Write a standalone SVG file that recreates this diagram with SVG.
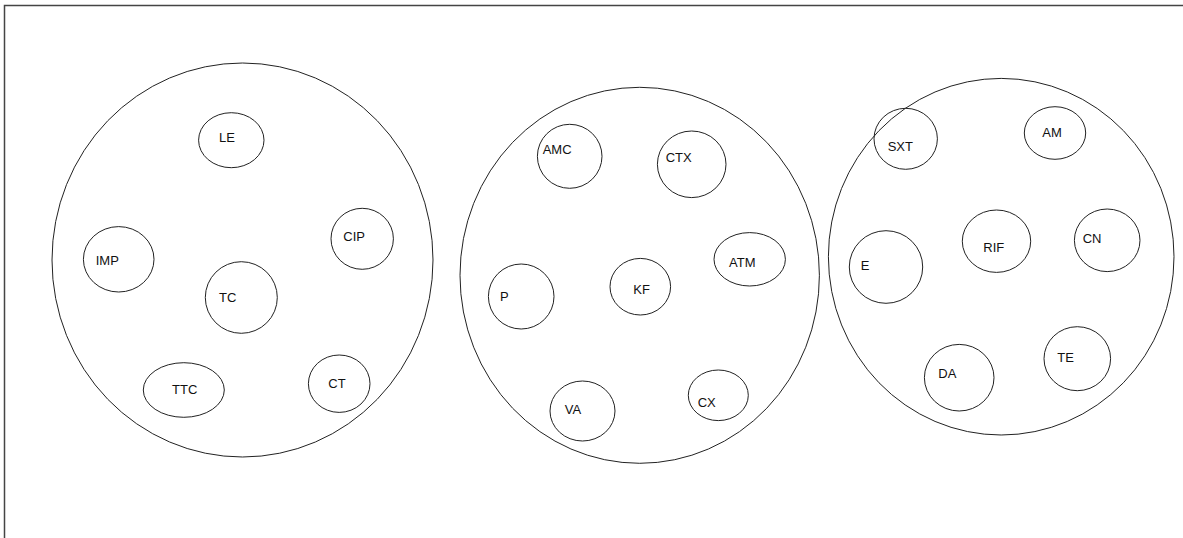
<svg xmlns="http://www.w3.org/2000/svg" width="1183" height="538" viewBox="0 0 1183 538">
<style>
.c{fill:none;stroke:#222;stroke-width:1}
.t{font-family:"Liberation Sans",Arial,sans-serif;font-size:13px;fill:#111}
.f{fill:none;stroke:#444;stroke-width:1.5}
</style>
<rect width="1183" height="538" fill="#fff"/>
<path class="f" d="M4.5,538 V5.5 H1183"/>
<g id="group1">
<ellipse class="c" cx="242.5" cy="260" rx="190.5" ry="197"/>
</g>
<g id="group2">
<ellipse class="c" cx="639.7" cy="275.3" rx="179.7" ry="188"/>
</g>
<g id="group3">
<ellipse class="c" cx="1001.2" cy="256.7" rx="172.8" ry="178.3"/>
</g>
<g id="LE"><ellipse class="c" cx="231.3" cy="140.2" rx="32.7" ry="27.5"/><text class="t" x="219" y="142">LE</text></g>
<g id="IMP"><ellipse class="c" cx="118.7" cy="259.3" rx="35.3" ry="32.7"/><text class="t" x="95.7" y="265">IMP</text></g>
<g id="TC"><ellipse class="c" cx="241.3" cy="297.5" rx="36" ry="35.8"/><text class="t" x="219" y="302.3">TC</text></g>
<g id="CIP"><ellipse class="c" cx="362.2" cy="238.8" rx="31.2" ry="30.5"/><text class="t" x="343.3" y="240.7">CIP</text></g>
<g id="TTC"><ellipse class="c" cx="183.8" cy="390" rx="40.5" ry="27.3"/><text class="t" x="172" y="394">TTC</text></g>
<g id="CT"><ellipse class="c" cx="339.2" cy="383.7" rx="30.8" ry="28.7"/><text class="t" x="328.3" y="388.3">CT</text></g>
<g id="AMC"><ellipse class="c" cx="569.7" cy="156.3" rx="32.3" ry="32"/><text class="t" x="542.7" y="154">AMC</text></g>
<g id="CTX"><ellipse class="c" cx="691.7" cy="164.3" rx="34.3" ry="33.3"/><text class="t" x="665.7" y="161.7">CTX</text></g>
<g id="ATM"><ellipse class="c" cx="749.7" cy="259.3" rx="35.7" ry="26.7"/><text class="t" x="729" y="267.3">ATM</text></g>
<g id="P"><ellipse class="c" cx="521.2" cy="296.5" rx="32.8" ry="32.5"/><text class="t" x="500" y="300.7">P</text></g>
<g id="KF"><ellipse class="c" cx="640.3" cy="286.7" rx="30.3" ry="28.3"/><text class="t" x="633.3" y="294">KF</text></g>
<g id="VA"><ellipse class="c" cx="582.5" cy="411" rx="32.5" ry="30"/><text class="t" x="564.7" y="414.3">VA</text></g>
<g id="CX"><ellipse class="c" cx="718.3" cy="395.3" rx="30" ry="25.3"/><text class="t" x="697.7" y="407.3">CX</text></g>
<g id="SXT"><ellipse class="c" cx="905.7" cy="138.8" rx="31.7" ry="30.5"/><text class="t" x="887.7" y="150.7">SXT</text></g>
<g id="AM"><ellipse class="c" cx="1055" cy="133" rx="30.7" ry="26.3"/><text class="t" x="1042.3" y="137.3">AM</text></g>
<g id="E"><ellipse class="c" cx="886" cy="267" rx="36.7" ry="36.3"/><text class="t" x="860.7" y="270">E</text></g>
<g id="RIF"><ellipse class="c" cx="996.5" cy="241.2" rx="34.2" ry="31.2"/><text class="t" x="983.3" y="251.7">RIF</text></g>
<g id="CN"><ellipse class="c" cx="1107.2" cy="240.3" rx="32.8" ry="31.3"/><text class="t" x="1082.7" y="243.3">CN</text></g>
<g id="DA"><ellipse class="c" cx="959.2" cy="377.7" rx="34.8" ry="33.3"/><text class="t" x="938.3" y="378.3">DA</text></g>
<g id="TE"><ellipse class="c" cx="1077.3" cy="358.7" rx="33.3" ry="32"/><text class="t" x="1057.3" y="362.3">TE</text></g>
<g id="connectors"></g>
</svg>
